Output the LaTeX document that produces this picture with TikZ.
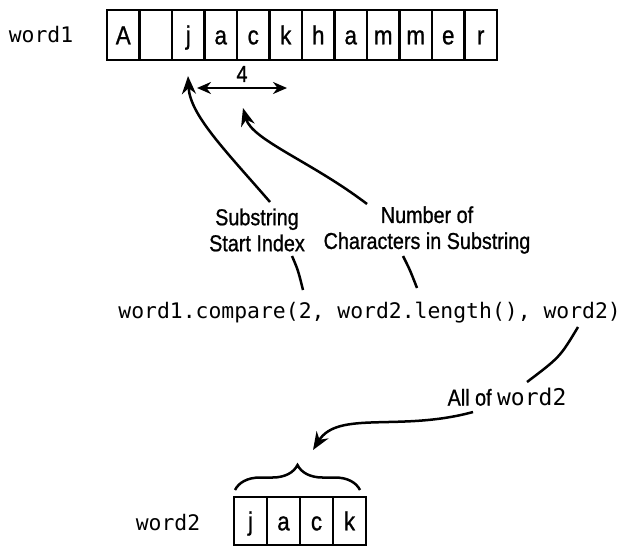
\documentclass[tikz,border=0pt]{standalone}
\usepackage{fontspec}
\setmainfont{Liberation Sans}[FakeStretch=0.86,FakeBold=0.9]
\setmonofont{DejaVu Sans Mono}
\usetikzlibrary{arrows.meta,decorations.pathreplacing}
\begin{document}
\begin{tikzpicture}[x=0.5pt,y=-0.5pt,
  cellbox/.style={draw,line width=1.2pt,minimum width=16.25pt,minimum height=25pt,inner sep=0pt,
     font=\fontsize{13}{13}\selectfont,text height=9.3pt,text depth=0pt},
  cellboxb/.style={cellbox,minimum width=16.5pt,minimum height=24pt},
  lbl/.style={font=\fontsize{11.5}{13}\selectfont,align=center,inner sep=0pt},
  codetxt/.style={font=\fontsize{10.7}{12}\selectfont\ttfamily,inner sep=0pt},
  conn/.style={line width=1.25pt},
  arr/.style={conn,-{Stealth[length=9pt,width=7pt]}},
  darr/.style={conn,{Stealth[length=7pt,width=6pt]}-{Stealth[length=7pt,width=6pt]}}]
\useasboundingbox (0,0) rectangle (624,546);
% word1
\node[codetxt] (w1lbl) at (41,35) {word1};
\foreach \t [count=\i] in {A,{},j,a,c,k,h,a,m,m,e,r}{
  \node[cellbox] (c\i) at ({107+32.5*(\i-0.5)},35) {\t};
}
% length arrow
\coordinate (la) at (197,88);
\coordinate (lb) at (287,88);
\draw[darr] (la) -- (lb);
\node[lbl] (four) at (242,74) {4};
% labels
\node[lbl] (ssi) at (257,230) {Substring\\Start Index};
\node[lbl] (noc) at (427,230) {Number of\\Characters in Substring};
\coordinate (s1) at (270,202);
\coordinate (t1) at (188,76);
\draw[arr] (s1) .. controls (225,150) and (190,115) .. (t1);
\coordinate (s2) at (367,204);
\coordinate (t2) at (243,108);
\draw[arr] (s2) .. controls (312,162) and (252,140) .. (t2);
% code
\node[codetxt,anchor=west] (code) at (118,313) {word1.compare(2, word2.length(), word2)};
\coordinate (p1) at (292,256);
\coordinate (q1) at (303,290);
\draw[conn] (p1) .. controls (298,270) .. (q1);
\coordinate (p2) at (403,256);
\coordinate (q2) at (417,288);
\draw[conn] (p2) .. controls (410,270) .. (q2);
% all of word2
\node[lbl] (all) at (507,397) {All of \texttt{word2}};
\coordinate (p3) at (578,327);
\coordinate (q3) at (527,382);
\draw[conn] (p3) .. controls (560,357) .. (q3);
\coordinate (p4) at (473,412);
\coordinate (t4) at (313,450);
\draw[arr] (p4) .. controls (400,432) and (338,410) .. (t4);
% brace
\coordinate (b1) at (235,490);
\coordinate (b2) at (360,490);
\draw[line width=1.25pt,decorate,decoration={brace,amplitude=12.5pt}] (b1) -- (b2);
% word2
\node[codetxt] (w2lbl) at (168,523) {word2};
\foreach \t [count=\i] in {j,a,c,k}{
  \node[cellboxb] (d\i) at ({234+33*(\i-0.5)},521) {\t};
}
\end{tikzpicture}
\end{document}
